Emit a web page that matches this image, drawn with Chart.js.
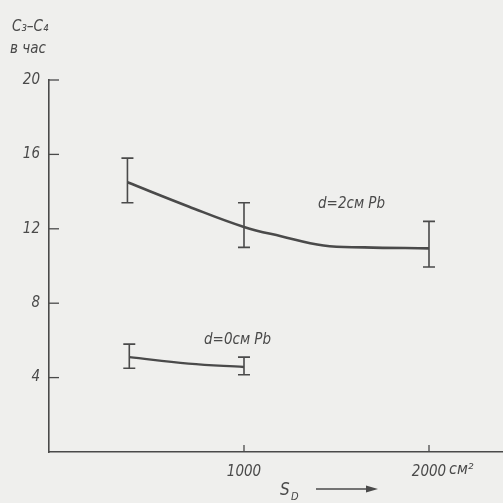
<!DOCTYPE html>
<html>
<head>
<meta charset="utf-8">
<script src="https://cdn.jsdelivr.net/npm/chart.js@4"></script>
<style>
  html, body { margin: 0; padding: 0; background: #efefed; }
  #wrap { width: 503px; height: 503px; }
</style>
</head>
<body>
<div id="wrap"><canvas id="c"></canvas></div>
<script>
// values
var xTicks = [1000, 2000];
var yTicks = [4, 8, 12, 16, 20];

// d = 2 cm Pb : smooth curve + measured points with error bars
var curve2X = [370, 700, 1000, 1200, 1430, 1650, 2000];
var curve2Y = [14.5, 13.2, 12.1, 11.6, 11.1, 11.0, 10.95];
var meas2X = [370, 1000, 2000];
var meas2Low = [13.4, 11.0, 9.95];
var meas2High = [15.8, 13.4, 12.4];

// d = 0 cm Pb
var curve0X = [380, 700, 1000];
var curve0Y = [5.1, 4.75, 4.57];
var meas0X = [380, 1000];
var meas0Low = [4.5, 4.15];
var meas0High = [5.8, 5.1];

var ink = '#4a4a4a';
var font = "'DejaVu Sans Condensed', 'Liberation Sans Narrow', 'Liberation Sans', sans-serif";

function pts(xs, ys) {
  return xs.map(function (x, i) { return {x: x, y: ys[i]}; });
}

var decorations = {
  id: 'decorations',
  afterDraw: function (chart) {
    var ctx = chart.ctx, xs = chart.scales.x, ys = chart.scales.y;
    var area = chart.chartArea;
    ctx.save();
    ctx.strokeStyle = ink;
    ctx.fillStyle = ink;

    // inward tick marks
    ctx.lineWidth = 1.3;
    yTicks.forEach(function (v) {
      var py = ys.getPixelForValue(v);
      ctx.beginPath(); ctx.moveTo(area.left, py); ctx.lineTo(area.left + 10, py); ctx.stroke();
    });
    xTicks.forEach(function (v) {
      var px = xs.getPixelForValue(v);
      ctx.beginPath(); ctx.moveTo(px, area.bottom); ctx.lineTo(px, area.bottom - 7); ctx.stroke();
    });

    // error bars
    function bars(xArr, lo, hi) {
      ctx.lineWidth = 1.6;
      xArr.forEach(function (x, i) {
        var px = xs.getPixelForValue(x);
        var p1 = ys.getPixelForValue(lo[i]), p2 = ys.getPixelForValue(hi[i]);
        ctx.beginPath();
        ctx.moveTo(px, p1); ctx.lineTo(px, p2);
        ctx.moveTo(px - 6, p1); ctx.lineTo(px + 6, p1);
        ctx.moveTo(px - 6, p2); ctx.lineTo(px + 6, p2);
        ctx.stroke();
      });
    }
    bars(meas2X, meas2Low, meas2High);
    bars(meas0X, meas0Low, meas0High);

    // texts
    ctx.font = 'italic 15px ' + font;
    ctx.textBaseline = 'middle';
    ctx.textAlign = 'left';
    ctx.fillText('d=2см Pb', 318, 204);
    ctx.fillText('d=0см Pb', 204, 340);
    ctx.font = 'italic 16px ' + font;
    ctx.fillText('см²', 449, 470);

    // y title
    ctx.font = 'italic 15px ' + font;
    ctx.fillText('C₃–C₄', 12, 27);
    ctx.fillText('в час', 10, 49);

    // x title with arrow
    ctx.font = 'italic 17px ' + font;
    ctx.fillText('S', 280, 491);
    ctx.font = 'italic 11px ' + font;
    ctx.fillText('D', 291, 497);
    ctx.lineWidth = 1.3;
    ctx.beginPath(); ctx.moveTo(316, 489); ctx.lineTo(372, 489); ctx.stroke();
    ctx.beginPath(); ctx.moveTo(378, 489); ctx.lineTo(366, 485.5); ctx.lineTo(366, 492.5); ctx.closePath(); ctx.fill();
    ctx.restore();
  }
};

new Chart(document.getElementById('c'), {
  type: 'scatter',
  data: {
    datasets: [{
      label: 'd=2',
      data: pts(curve2X, curve2Y),
      showLine: true,
      tension: 0.4,
      borderColor: ink,
      borderWidth: 2.6,
      pointRadius: 0
    }, {
      label: 'd=0',
      data: pts(curve0X, curve0Y),
      showLine: true,
      tension: 0.4,
      borderColor: ink,
      borderWidth: 2.4,
      pointRadius: 0
    }]
  },
  options: {
    responsive: true,
    maintainAspectRatio: false,
    animation: false,
    layout: { padding: { top: 80, right: 0, left: 0, bottom: 0 } },
    plugins: { legend: { display: false }, tooltip: { enabled: false } },
    scales: {
      x: {
        type: 'linear',
        min: -54,
        max: 2400,
        afterBuildTicks: function (s) { s.ticks = xTicks.map(function (v) { return {value: v}; }); },
        afterFit: function (s) { s.height = 51; },
        grid: { display: false, drawTicks: false, tickLength: 0, tickColor: 'rgba(0,0,0,0)' },
        border: { display: true, color: ink, width: 1.6 },
        ticks: {
          color: ink,
          padding: 11,
          maxRotation: 0,
          font: { family: font, size: 15, style: 'italic' },
          callback: function (v) { return String(v); }
        }
      },
      y: {
        type: 'linear',
        min: 0,
        max: 20,
        afterBuildTicks: function (s) { s.ticks = yTicks.map(function (v) { return {value: v}; }); },
        afterFit: function (s) { s.width = 49; },
        grid: { display: false, drawTicks: false, tickLength: 0, tickColor: 'rgba(0,0,0,0)' },
        border: { display: true, color: ink, width: 1.6 },
        ticks: {
          color: ink,
          padding: 9,
          font: { family: font, size: 15, style: 'italic' }
        }
      }
    }
  },
  plugins: [decorations]
});
</script>
</body>
</html>
